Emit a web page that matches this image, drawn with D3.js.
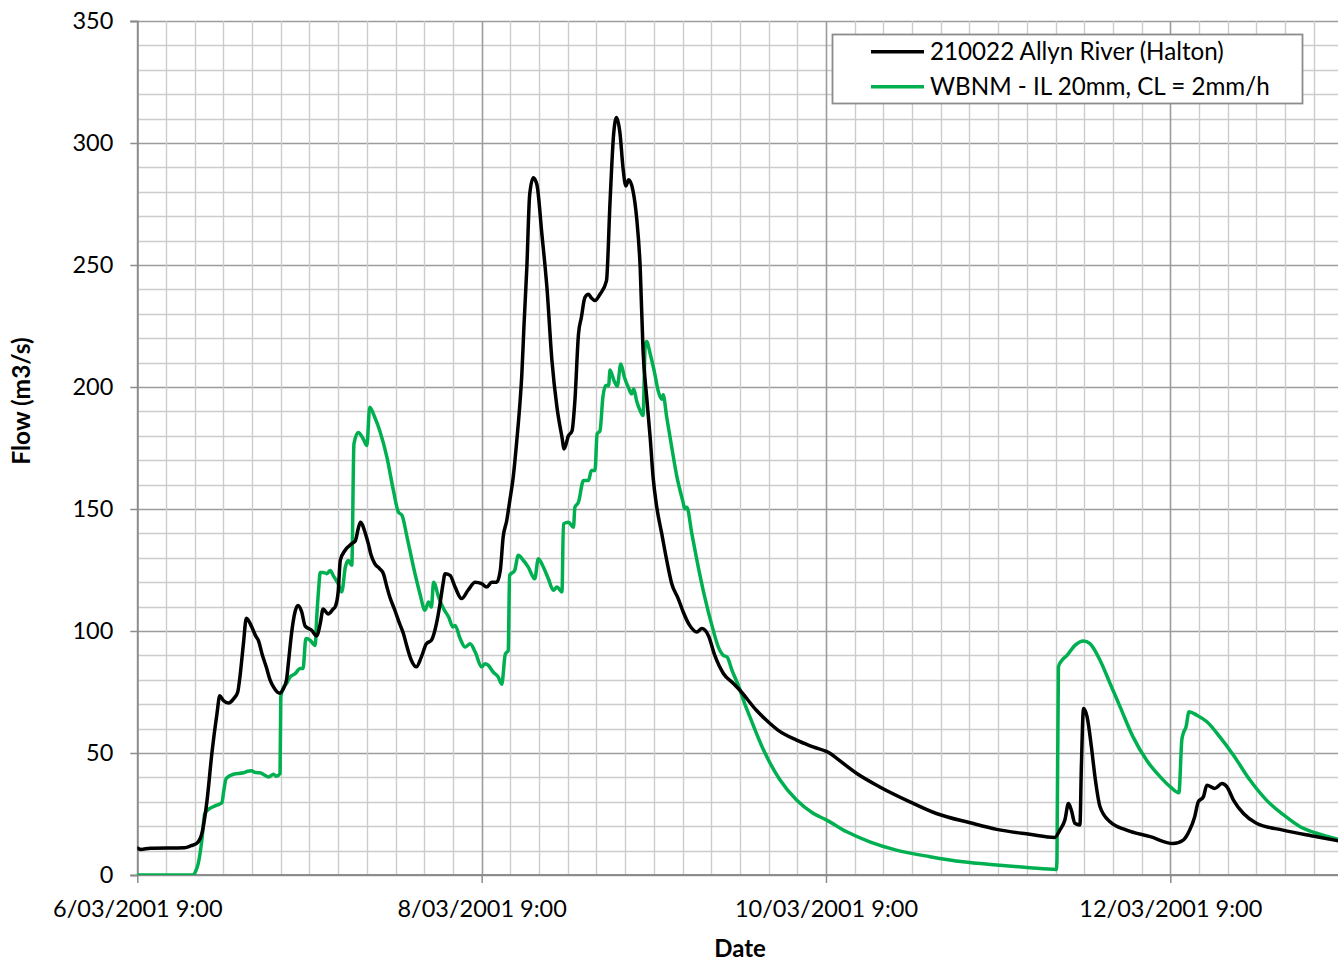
<!DOCTYPE html>
<html>
<head>
<meta charset="utf-8">
<script src="https://cdn.jsdelivr.net/npm/d3@7"></script>
<style>
  html, body { margin: 0; padding: 0; background: #fff; }
  svg { display: block; font-family: Lato, "Open Sans", sans-serif; }
</style>
</head>
<body>
<svg id="chart" width="1338" height="961"></svg>
<script>
// Allyn River at Halton (station 210022), March 2001 event:
// recorded flow versus the WBNM runoff-routing model.
// Times are hours after 6/03/2001 9:00, flows in m3/s.

const seriesNames = ["210022 Allyn River (Halton)", "WBNM - IL 20mm, CL = 2mm/h"];

const obsHours = [0, 0.5, 1.8, 6.6, 7.5, 8.3, 9.0, 9.7, 10.4, 11.1, 11.5, 12.0, 12.7, 13.5, 14.0, 14.3, 14.8, 15.2,
  15.9, 16.5, 16.9, 17.4, 18.0, 18.5, 19.0, 19.5, 19.9, 20.3, 20.8, 21.1, 21.5, 22.0, 22.4, 22.9, 23.4, 24.3,
  25.0, 25.5, 25.9, 26.6, 27.3, 27.6, 28.0, 28.3, 28.95, 29.9, 30.4, 30.8, 31.1, 31.8, 32.2, 32.6, 33.1, 33.8,
  34.3, 34.8, 35.2, 35.9, 36.5, 37.1, 37.6, 38.2, 38.9, 39.6, 40.3, 41.0, 41.7, 42.2, 42.6, 42.9, 43.6, 44.3,
  45.2, 46.1, 47.1, 48.0, 48.7, 49.4, 50.1, 50.6, 51.0, 51.5, 51.9, 52.4, 52.9, 53.4, 53.6, 53.9, 54.3, 54.7,
  55.2, 55.7, 56.4, 57.1, 57.8, 58.5, 59.2, 59.5, 60.1, 60.6, 61.0, 61.5, 61.9, 62.4, 62.9, 63.3, 63.8, 64.5,
  65.4, 65.9, 66.4, 66.8, 67.3, 67.7, 68.1, 68.5, 69.1, 69.6, 70.1, 70.5, 71.0, 71.5, 71.9, 72.4, 73.1, 73.8,
  74.5, 75.4, 76.1, 77.0, 78.0, 78.7, 79.6, 80.5, 81.7, 83.1, 84.0, 86.3, 87.7, 89.3, 91.9, 94.2, 96.6, 97.5,
  100.3, 103.5, 107.7, 111.4, 116.1, 119.8, 124.4, 127.9, 128.6, 129.3, 129.8, 130.2, 130.7, 131.4, 131.6,
  131.9, 132.4, 133.0, 133.5, 134.2, 135.6, 137.9, 141.2, 144.4, 145.8, 146.7, 147.4, 147.9, 148.6, 149.1,
  150.2, 151.2, 151.9, 152.8, 154.2, 156.0, 159.7, 164.4, 167.4];
const obsFlow = [11, 10.5, 11, 11.2, 12, 13, 17, 30, 50, 66, 73.5, 71.5, 70.5, 72.5, 75, 81, 95, 105.2,
  102, 98, 96, 90.5, 85, 80, 77, 75, 74.5, 76, 80, 88, 99, 108, 110.5, 108, 102, 100.3,
  98, 103, 109, 107, 109, 110, 116, 129, 133, 135.8, 137, 142, 144.6, 139.9, 135.8, 131, 127.6, 125.5,
  123.5, 118, 113.9, 108.5, 103.5, 98.9, 93.5, 88, 85.3, 89.4, 94.8, 96.2, 103, 111.2, 119, 123.5, 122.8, 118,
  113.3, 116.7, 120, 119.4, 118, 120, 120, 124.8, 138.5, 145.3, 153, 163, 178, 195.8, 205, 225, 249, 279,
  285.8, 283, 262.6, 240.8, 210.8, 191.7, 179.4, 174.6, 180, 182, 194.4, 221.7, 228.5, 236.7, 238, 236.5, 235.4, 238,
  243.5, 276, 303.6, 310.4, 303.6, 290, 282.4, 284.9, 280.4, 269.5, 249, 215, 196, 179, 163, 151, 140, 129,
  119.4, 113.3, 107.8, 102.3, 99.6, 101, 98.2, 90, 82.6, 78.5, 75.7, 67.5, 63.4, 59.4, 55.3, 52.5, 49.8, 47.8,
  41.6, 36.1, 30, 25.2, 21.4, 18.7, 16.7, 15.4, 18.4, 22.5, 29.3, 26.6, 21.2, 20.5, 44.3,
  68.2, 64.8, 52.5, 40.2, 28, 21.8, 18.4, 15.7, 12.9, 14.3, 18.4, 23.9, 30, 32, 36.8,
  35.5, 37.5, 36.1, 30.7, 25.2, 21.2, 18.4, 15.7, 14];

const modHours = [0, 7.8, 8.2, 8.5, 9.0, 9.4, 10.1, 11.0, 11.8, 12.0, 12.4, 13.4, 14.8, 15.4, 15.9, 16.5, 17.1,
  17.7, 18.3, 19.0, 19.4, 19.9, 20.0, 20.4, 20.8, 21.3, 22.0, 22.7, 23.1, 23.5, 24.1, 24.5, 24.8, 25.0, 25.3,
  25.5, 25.9, 26.4, 26.9, 27.3, 28.0, 28.5, 29.0, 29.4, 29.9, 30.2, 30.8, 31.5, 32.0, 32.4, 33.1, 33.8, 34.8,
  35.7, 36.4, 36.9, 37.6, 38.5, 39.4, 40.1, 40.6, 41.0, 41.3, 42.0, 42.7, 43.4, 44.0, 44.3, 45.0, 45.7, 46.4,
  47.1, 48.0, 48.5, 48.9, 49.6, 50.3, 50.8, 51.3, 51.7, 51.9, 52.6, 53.1, 53.8, 54.5, 55.4, 55.9, 56.6, 57.3,
  58.0, 58.5, 59.2, 59.4, 60.1, 60.8, 61.0, 61.5, 62.2, 62.9, 63.3, 63.8, 64.1, 64.5, 64.9, 65.3, 65.7, 65.9,
  66.4, 66.9, 67.4, 67.9, 68.5, 68.9, 69.2, 69.6, 70.1, 70.5, 70.8, 71.0, 71.5, 72.2, 72.6, 73.1, 73.3, 73.8,
  74.5, 75.2, 75.6, 76.1, 76.3, 76.6, 77.3, 78.2, 79.1, 80.1, 81.0, 81.7, 82.2, 82.9, 84.0, 84.5, 85.4, 87.3,
  89.6, 91.9, 94.2, 96.1, 98.9, 102.1, 105.8, 110.5, 115.1, 119.8, 124.4, 128.1, 128.2, 128.4, 128.9, 129.6,
  130.7, 131.9, 132.8, 134.2, 135.6, 137.0, 138.8, 140.7, 142.6, 144.0, 145.2, 145.6, 145.8, 146.2, 146.6,
  147.7, 149.1, 150.9, 152.8, 155.1, 157.4, 159.8, 162.1, 164.4, 167.4];
const modFlow = [0, 0, 2, 4.8, 14.3, 25.2, 27.3, 28.5, 29.6, 33.4, 39.6, 41.3, 41.9, 42.5, 42.7, 42, 41.9,
  41, 40.2, 41.3, 40.5, 41.6, 73, 77, 78.5, 81.2, 82.5, 84.6, 84.6, 96.9, 96.2, 94.8, 94.1, 105, 118,
  124, 124, 123.5, 124.8, 122.8, 119.4, 116, 126.2, 128.9, 126.9, 176.7, 181.4, 178.7, 176, 191.7, 187.6, 182.1, 171.2,
  157.6, 148.7, 147.4, 138.5, 126.2, 115.3, 108.5, 111.9, 109.8, 120, 113.9, 109.1, 105.7, 101.6, 102.3, 96.9, 93.4, 94.8,
  91.4, 85.3, 86.6, 86, 83.2, 81.2, 78.2, 90.5, 92, 122.8, 124.8, 131, 129, 126.2, 121.4, 129.6, 126.2, 121.4,
  116.7, 118, 116, 143.9, 144.6, 142.5, 150.7, 152.8, 161.7, 161.7, 165.8, 165.8, 180.8, 182.1, 195.8, 200.6, 200.6, 207,
  203, 200.3, 209.4, 204, 199.5, 197.2, 199.2, 194.4, 190.3, 188.3, 217, 218.6, 213.5, 204.5, 198.5, 195, 196.8, 187.6,
  175.3, 163.5, 158.3, 152.5, 150, 150.7, 139.9, 126.2, 113.9, 102.3, 93.4, 90, 89.4, 83.9, 76, 71.6, 64.8, 51.2,
  38.9, 30.7, 25.3, 22.5, 17.7, 13.6, 10.2, 7.5, 5.4, 4.1, 3, 2.3, 6, 85.3, 88, 90,
  94.1, 95.9, 94.8, 88, 78.5, 68.9, 56.6, 47, 40.2, 36.1, 33.7, 55.3, 58, 60.8, 66.9,
  65.5, 62.8, 56.6, 49.1, 38.9, 30.7, 24.6, 19.8, 17.1, 14.6];

const flowTicks = [0, 50, 100, 150, 200, 250, 300, 350];
const dateTickHours = [0, 48, 96, 144];
const seriesColors = ["#000000", "#00b050"];

// ---- layout ----
const svg = d3.select("#chart");
const plotLeft = 137.3, plotTop = 21, plotBottom = 875, plotRight = 1338;
const dayPx = 172.17;
const start = new Date(2001, 2, 6, 9, 0);
const hoursToDate = h => new Date(start.getTime() + h * 3600e3);
const end = hoursToDate(168);

const x = d3.scaleTime().domain([start, end]).range([plotLeft, plotLeft + 7 * dayPx]);
const y = d3.scaleLinear().domain([0, 350]).range([plotBottom, plotTop]);

// ---- grid ----
const grid = svg.append("g");
const minorY = d3.range(0, 351, 10);
grid.selectAll("line.hy").data(minorY).join("line")
  .attr("x1", plotLeft).attr("x2", plotRight)
  .attr("y1", d => Math.round(y(d)) + 0.5).attr("y2", d => Math.round(y(d)) + 0.5)
  .attr("stroke", d => d % 50 === 0 ? "#9c9c9c" : "#cccccc")
  .attr("stroke-width", d => d % 50 === 0 ? 1.6 : 1.4);
const minorX = d3.range(4, 169, 4).map(hoursToDate);
grid.selectAll("line.vx").data(minorX).join("line")
  .attr("y1", plotTop).attr("y2", plotBottom)
  .attr("x1", d => Math.round(x(d)) + 0.5).attr("x2", d => Math.round(x(d)) + 0.5)
  .attr("stroke", (d, i) => ((i + 1) % 12 === 0) ? "#9c9c9c" : "#cccccc")
  .attr("stroke-width", (d, i) => ((i + 1) % 12 === 0) ? 1.6 : 1.4);

// ---- axes ----
const fmt = d3.timeFormat("%-d/%m/%Y %-H:%M");
const xAxis = d3.axisBottom(x).tickValues(dateTickHours.map(hoursToDate)).tickFormat(fmt)
  .tickSize(8).tickPadding(17);
const gx = svg.append("g").attr("transform", `translate(0,${plotBottom})`).call(xAxis);
const yAxis = d3.axisLeft(y).tickValues(flowTicks).tickSize(7).tickPadding(17);
const gy = svg.append("g").attr("transform", `translate(${plotLeft},0)`).call(yAxis);
[gx, gy].forEach(g => {
  g.select(".domain").attr("stroke", "#8c8c8c").attr("stroke-width", 2);
  g.selectAll(".tick line").attr("stroke", "#8c8c8c").attr("stroke-width", 1.5);
  g.selectAll(".tick text").attr("fill", "#000").style("font-size", "23.5px").style("font-family", "Lato, sans-serif");
});
gx.select(".domain").attr("d", `M${plotLeft},0H${plotRight}`);

// ---- series ----
const line = d3.line().x(d => x(d[0])).y(d => y(d[1])).curve(d3.curveMonotoneX);
svg.append("clipPath").attr("id", "plotClip").append("rect")
  .attr("x", plotLeft).attr("y", plotTop - 5).attr("width", plotRight - plotLeft).attr("height", plotBottom - plotTop + 5);
const plotG = svg.append("g").attr("clip-path", "url(#plotClip)");
const seriesData = [
  obsHours.map((h, i) => [hoursToDate(h), obsFlow[i]]),
  modHours.map((h, i) => [hoursToDate(h), modFlow[i]])
];
// model drawn first so the recorded trace sits on top
[1, 0].forEach(k => {
  plotG.append("path").datum(seriesData[k])
    .attr("d", line).attr("fill", "none")
    .attr("stroke", seriesColors[k]).attr("stroke-width", 3.5)
    .attr("stroke-linejoin", "round").attr("stroke-linecap", "round");
});

// ---- legend ----
const lg = svg.append("g");
lg.append("rect").attr("x", 832.5).attr("y", 34.5).attr("width", 470).attr("height", 69)
  .attr("fill", "#fff").attr("stroke", "#8c8c8c").attr("stroke-width", 1.8);
seriesNames.forEach((name, i) => {
  const cy = 51.7 + i * 35;
  lg.append("line").attr("x1", 871).attr("x2", 924).attr("y1", cy).attr("y2", cy)
    .attr("stroke", seriesColors[i]).attr("stroke-width", 3.5);
  lg.append("text").attr("x", 930).attr("y", cy + 8.5).text(name)
    .style("font-size", "24.2px").attr("fill", "#000");
});

// ---- axis titles ----
svg.append("text").attr("x", 740).attr("y", 957).attr("text-anchor", "middle")
  .style("font-size", "24px").style("font-weight", "bold").text("Date");
svg.append("text").attr("transform", "translate(30,401) rotate(-90)").attr("text-anchor", "middle")
  .style("font-size", "24.5px").style("font-weight", "bold").text("Flow (m3/s)");
</script>
</body>
</html>
